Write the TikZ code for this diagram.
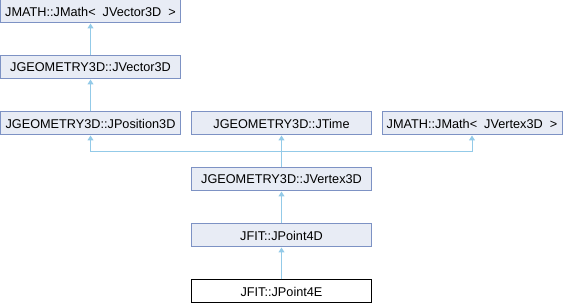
\documentclass[tikz,border=0pt]{standalone}
\usepackage{fontspec}
\setmainfont{Liberation Sans}
\usetikzlibrary{arrows.meta}
\definecolor{boxfill}{HTML}{E8ECF5}
\definecolor{boxline}{HTML}{7D92C4}
\definecolor{edgecol}{HTML}{93CAE8}
\tikzset{
  cls/.style={draw=boxline, fill=boxfill, line width=1pt, minimum width=180pt, minimum height=23pt, inner sep=0pt, font=\fontsize{12.7}{14}\selectfont},
  cur/.style={cls, draw=black, fill=white},
  edge/.style={draw=edgecol, line width=1pt, -{Triangle[width=6pt,length=5pt]}}
}
\begin{document}
\begin{tikzpicture}[x=1pt,y=-1pt]
\useasboundingbox (0,0) rectangle (563,304);
\node[cls] (mv) at (90.5,11.5) {JMATH::JMath<\ \ JVector3D\ \ >};
\node[cls] (vec) at (90.5,67.5) {JGEOMETRY3D::JVector3D};
\node[cls] (pos) at (90.5,123.5) {JGEOMETRY3D::JPosition3D};
\node[cls] (time) at (281.5,123.5) {JGEOMETRY3D::JTime};
\node[cls] (mx) at (472,123.5) {JMATH::JMath<\ \ JVertex3D\ \ >};
\node[cls] (vx) at (281.5,179.5) {JGEOMETRY3D::JVertex3D};
\node[cls] (p4d) at (281.5,235.5) {JFIT::JPoint4D};
\node[cur] (p4e) at (281.5,291.5) {JFIT::JPoint4E};
\coordinate (j) at (281.5,152);
\draw[edge] (vec.north) -- (mv.south);
\draw[edge] (pos.north) -- (vec.south);
\draw[edge] (vx.north) -- (time.south);
\draw[edge] (j) -| (pos.south);
\draw[edge] (j) -| (mx.south);
\draw[edge] (p4d.north) -- (vx.south);
\draw[edge] (p4e.north) -- (p4d.south);
\end{tikzpicture}
\end{document}
